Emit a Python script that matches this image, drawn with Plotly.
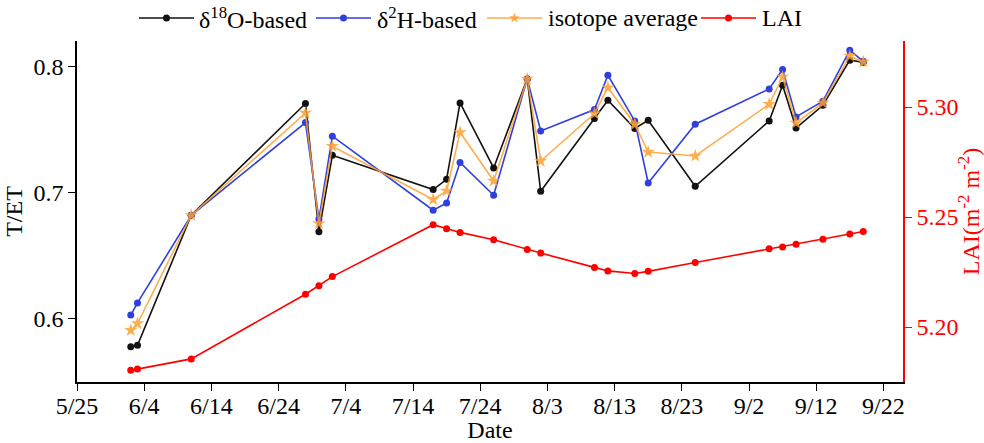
import math
import plotly.graph_objects as go

# Sampling dates (2019 growing season)
dates = ["2019-06-02", "2019-06-03", "2019-06-11", "2019-06-28", "2019-06-30",
         "2019-07-02", "2019-07-17", "2019-07-19", "2019-07-21", "2019-07-26",
         "2019-07-31", "2019-08-02", "2019-08-10", "2019-08-12", "2019-08-16",
         "2019-08-18", "2019-08-25", "2019-09-05", "2019-09-07", "2019-09-09",
         "2019-09-13", "2019-09-17", "2019-09-19"]

# T/ET partitioning results
te_o18 = [0.578, 0.579, 0.682, 0.7705, 0.669, 0.7295, 0.7024, 0.7105, 0.771, 0.7195,
          0.790, 0.701, 0.7586, 0.7731, 0.7507, 0.7572, 0.705, 0.7567, 0.785, 0.7511,
          0.7691, 0.8048, 0.8032]
te_h2 = [0.603, 0.6126, 0.682, 0.7554, 0.679, 0.7446, 0.686, 0.6918, 0.7238, 0.6979,
         0.790, 0.7488, 0.7657, 0.7929, 0.7567, 0.7076, 0.7541, 0.782, 0.7974, 0.7599,
         0.7723, 0.8127, 0.8039]
te_avg = [0.591, 0.5963, 0.682, 0.763, 0.6755, 0.7367, 0.6945, 0.7013, 0.7477, 0.7092,
          0.790, 0.725, 0.7625, 0.7831, 0.7541, 0.7321, 0.729, 0.7699, 0.7915, 0.7552,
          0.771, 0.8082, 0.8035]

# Leaf area index
lai = [5.1803, 5.1809, 5.1855, 5.2149, 5.2188, 5.2229, 5.2465, 5.2447, 5.2430, 5.2397,
       5.2352, 5.2336, 5.2271, 5.2255, 5.2243, 5.2253, 5.2293, 5.2356, 5.2364, 5.2376,
       5.2399, 5.2423, 5.2434]

series_names = ["δ<sup>18</sup>O-based", "δ<sup>2</sup>H-based", "isotope average", "LAI"]

FONT = "Liberation Serif"
FS = 24
BLACK = "#111111"
BLUE = "#3040dc"
ORANGE = "#ffa030"
RED = "#ff0000"
ORANGE_ALPHA = 0.85

W, H = 984, 443
ML, MR, MT, MB = 77, 81, 41, 61
PW, PH = W - ML - MR, H - MT - MB

fig = go.Figure()
fig.add_trace(go.Scatter(x=dates, y=te_o18, mode="lines+markers", name=series_names[0],
                         line=dict(color=BLACK, width=1.6),
                         marker=dict(symbol="circle", size=7, color=BLACK)))
fig.add_trace(go.Scatter(x=dates, y=te_h2, mode="lines+markers", name=series_names[1],
                         line=dict(color=BLUE, width=1.6),
                         marker=dict(symbol="circle", size=7, color=BLUE)))
fig.add_trace(go.Scatter(x=dates, y=te_avg, mode="lines+markers", name=series_names[2],
                         opacity=ORANGE_ALPHA,
                         line=dict(color=ORANGE, width=1.6),
                         marker=dict(symbol="star", size=10, color=ORANGE)))
fig.add_trace(go.Scatter(x=dates, y=lai, mode="lines+markers", name=series_names[3], yaxis="y2",
                         line=dict(color=RED, width=1.6),
                         marker=dict(symbol="circle", size=7, color=RED)))


# Legend row drawn by hand so the sample lines can be longer than plotly's
def px_x(p):
    return (p - ML) / PW


def px_y(p):
    return (H - MB - p) / PH


def star_path(r_out=5.5, r_in=2.3):
    pts = []
    for k in range(10):
        r = r_out if k % 2 == 0 else r_in
        a = math.pi / 2 + k * math.pi / 5
        pts.append((r * math.cos(a), r * math.sin(a)))
    return "M" + " L".join(f"{x:.2f},{y:.2f}" for x, y in pts) + " Z"


legend_y = px_y(18)
legend_items = [  # (line start px, line end px, text start px, colour, marker, opacity)
    (139, 194, 198, BLACK, "circle", 1.0),
    (316, 371, 376, BLUE, "circle", 1.0),
    (487, 542, 547, ORANGE, "star", ORANGE_ALPHA),
    (701, 756, 761, RED, "circle", 1.0),
]
shapes = []
annotations = []
for (x0, x1, xt, col, sym, op), label in zip(legend_items, series_names):
    shapes.append(dict(type="line", xref="paper", yref="paper",
                       x0=px_x(x0), x1=px_x(x1), y0=legend_y, y1=legend_y,
                       line=dict(color=col, width=1.6), opacity=op))
    xc = px_x((x0 + x1) / 2)
    if sym == "circle":
        shapes.append(dict(type="circle", xref="paper", yref="paper",
                           xsizemode="pixel", ysizemode="pixel",
                           xanchor=xc, yanchor=legend_y,
                           x0=-3.5, x1=3.5, y0=-3.5, y1=3.5,
                           fillcolor=col, line=dict(width=0), opacity=op))
    else:
        shapes.append(dict(type="path", xref="paper", yref="paper",
                           xsizemode="pixel", ysizemode="pixel",
                           xanchor=xc, yanchor=legend_y, path=star_path(),
                           fillcolor=col, line=dict(width=0), opacity=op))
    annotations.append(dict(xref="paper", yref="paper", x=px_x(xt), y=legend_y,
                            xanchor="left", yanchor="middle", showarrow=False,
                            text=label, font=dict(family=FONT, size=FS, color="black"),
                            borderpad=0))

fig.update_layout(
    width=W, height=H,
    margin=dict(l=ML, r=MR, t=MT, b=MB, autoexpand=False),
    paper_bgcolor="white", plot_bgcolor="white",
    font=dict(family=FONT, size=FS, color="black"),
    showlegend=False,
    shapes=shapes,
    annotations=annotations,
    xaxis=dict(
        type="date",
        range=["2019-05-25", "2019-09-24 22:00"],
        tick0="2019-05-25", dtick=10 * 24 * 3600 * 1000,
        tickformat="%-m/%-d",
        showgrid=False, zeroline=False, automargin=False,
        showline=True, linecolor="black", linewidth=1.5,
        ticks="outside", ticklen=7, tickwidth=1.2, tickcolor="black",
        ticklabelstandoff=-6,
        tickfont=dict(family=FONT, size=FS),
        title=dict(text="Date", font=dict(family=FONT, size=FS), standoff=6),
    ),
    yaxis=dict(
        range=[0.55, 0.82],
        tickvals=[0.6, 0.7, 0.8], ticktext=["0.6", "0.7", "0.8"],
        showgrid=False, zeroline=False, automargin=False,
        showline=True, linecolor="black", linewidth=1.5,
        ticks="outside", ticklen=7, tickwidth=1.2, tickcolor="black",
        tickfont=dict(family=FONT, size=FS),
        title=dict(text="T/ET", font=dict(family=FONT, size=FS), standoff=4),
    ),
    yaxis2=dict(
        overlaying="y", side="right",
        range=[5.175, 5.33],
        tickvals=[5.20, 5.25, 5.30], ticktext=["5.20", "5.25", "5.30"],
        showgrid=False, zeroline=False, automargin=False,
        showline=True, linecolor=RED, linewidth=1.5,
        ticks="outside", ticklen=7, tickwidth=1.2, tickcolor=RED,
        tickfont=dict(family=FONT, size=FS, color=RED),
        title=dict(text="LAI(m<sup>-2</sup> m<sup>-2</sup>)",
                   font=dict(family=FONT, size=FS, color=RED), standoff=8),
    ),
)

fig.write_html("out.html")
